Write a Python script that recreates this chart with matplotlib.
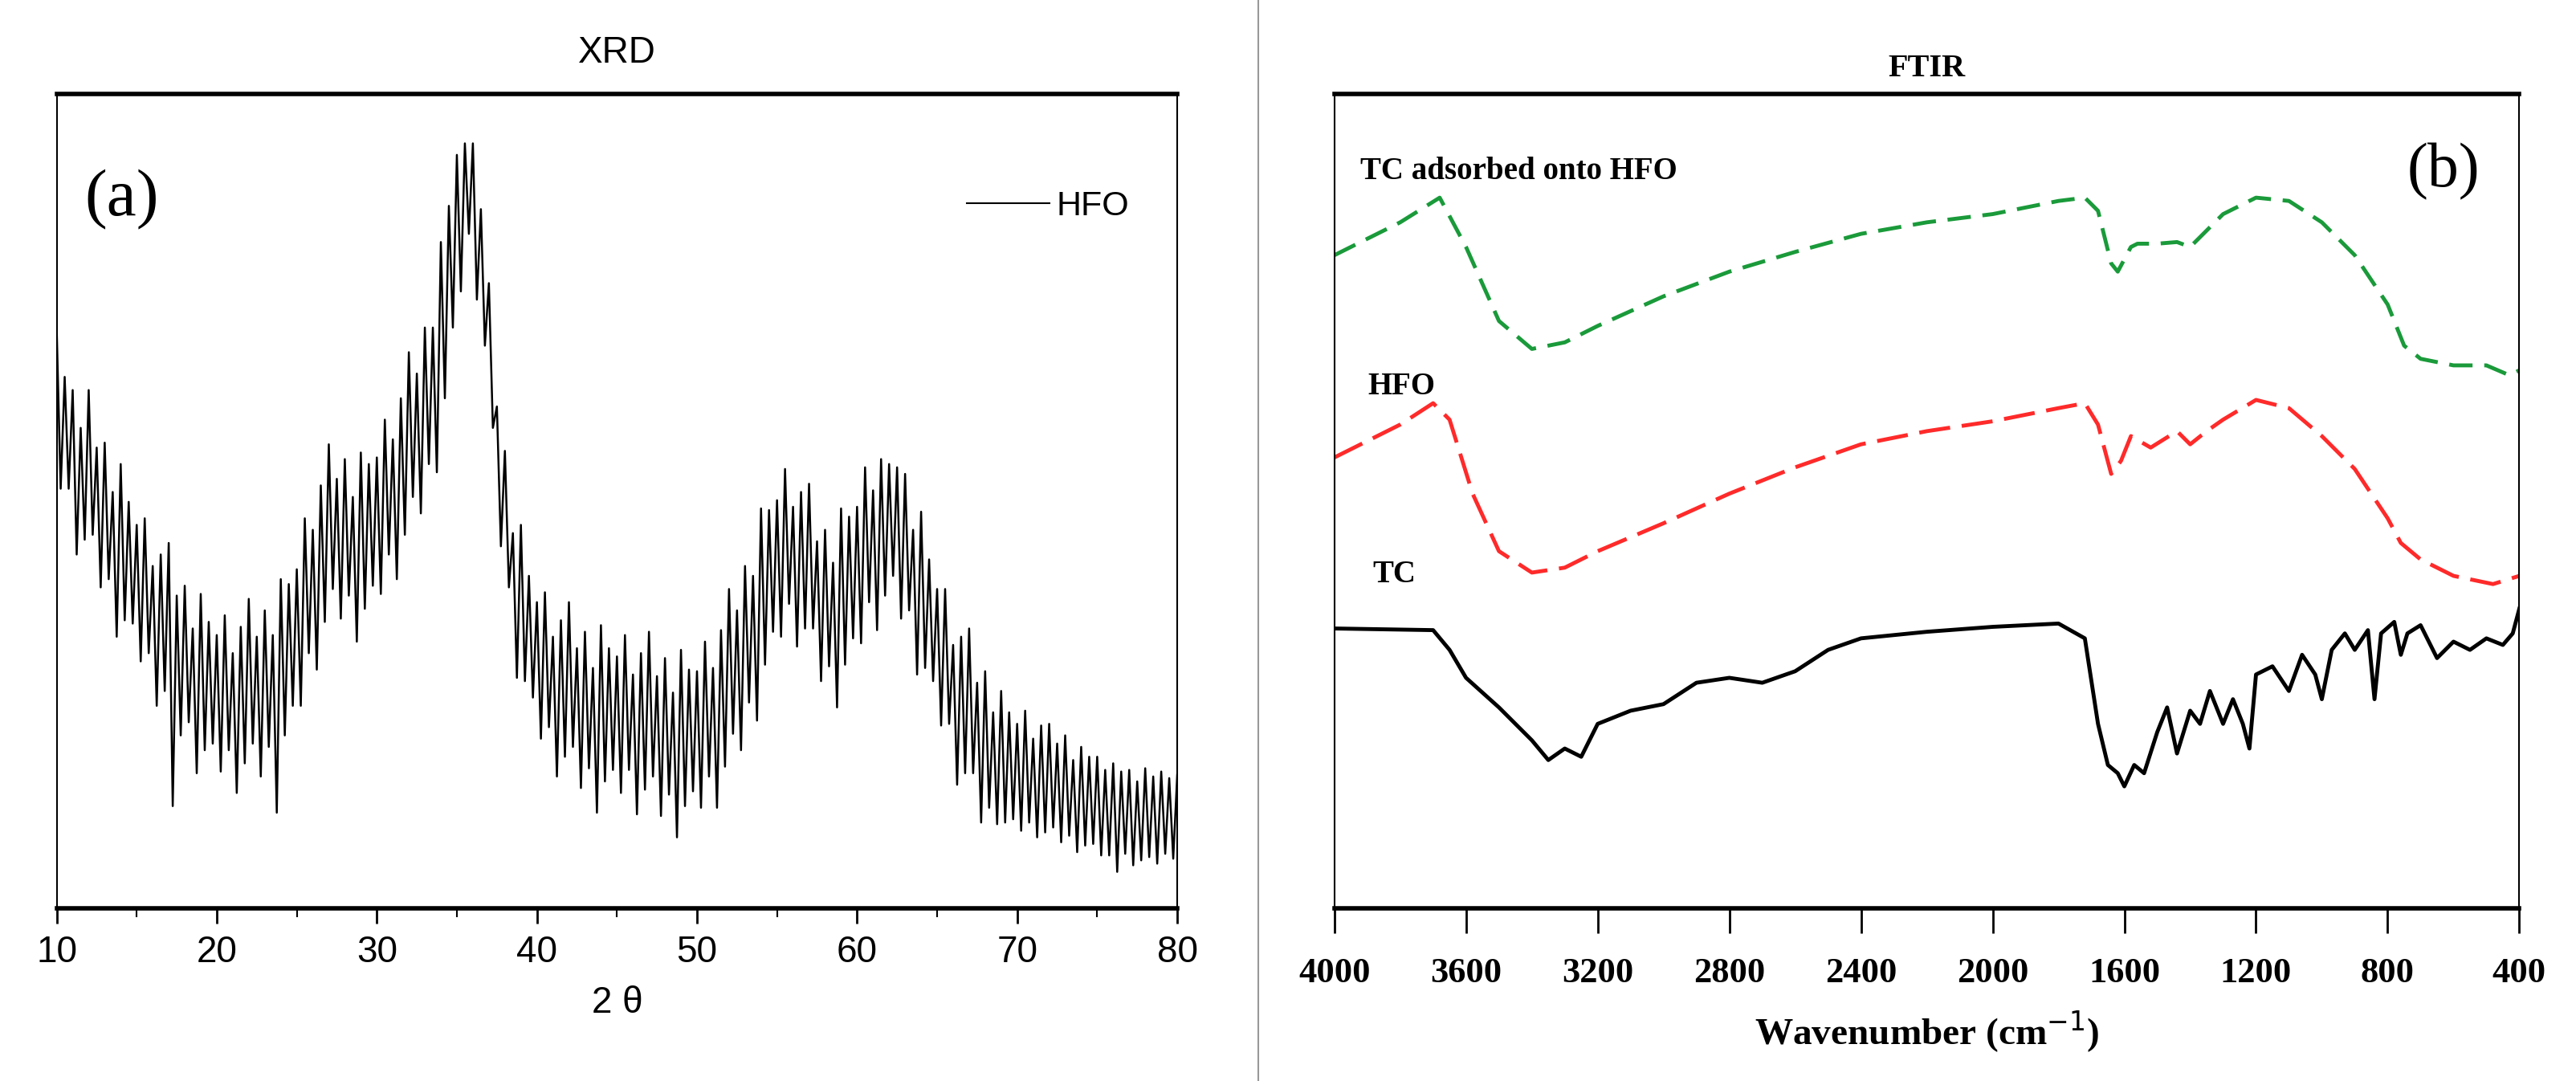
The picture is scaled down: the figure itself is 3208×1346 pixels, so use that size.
import matplotlib

matplotlib.use("Agg")
import matplotlib.pyplot as plt
import numpy as np
from matplotlib.lines import Line2D

# XRD (HFO) — upper/lower noise envelope read at 0.5 deg steps, arbitrary intensity
xrd_2theta = np.arange(10, 80.01, 0.5)
xrd_hi = [352, 323, 315, 292, 315, 280, 283, 253, 270, 247, 233, 237, 208, 215, 222, 190, 196, 170, 191, 174,
          166, 178, 155, 171, 188, 165, 181, 166, 200, 197, 206, 237, 230, 257, 282, 261, 273, 250, 277, 270,
          274, 297, 285, 310, 338, 325, 353, 353, 405, 427, 458, 465, 465, 425, 380, 305, 278, 228, 233, 202,
          186, 192, 165, 175, 186, 158, 168, 146, 172, 158, 153, 166, 142, 155, 168, 141, 152, 131, 157, 145,
          144, 162, 146, 169, 194, 181, 208, 202, 243, 242, 248, 267, 244, 253, 258, 223, 230, 210, 243, 238,
          244, 268, 254, 273, 270, 268, 264, 230, 241, 212, 194, 194, 160, 165, 170, 137, 144, 119, 132, 119,
          112, 120, 103, 111, 112, 100, 105, 90, 98, 92, 92, 84, 88, 83, 84, 77, 85, 80, 83, 79, 81]
xrd_lo = [255, 255, 215, 224, 227, 195, 200, 165, 175, 173, 150, 155, 123, 132, 62, 105, 113, 82, 96, 100,
          83, 96, 70, 88, 100, 80, 98, 58, 105, 123, 123, 155, 145, 174, 194, 176, 190, 162, 182, 196,
          191, 215, 200, 227, 250, 240, 270, 265, 310, 353, 375, 410, 370, 342, 292, 220, 195, 140, 138, 128,
          103, 110, 80, 92, 98, 73, 85, 58, 77, 84, 70, 84, 57, 72, 80, 56, 69, 43, 62, 71,
          61, 80, 61, 86, 106, 96, 125, 114, 148, 168, 165, 185, 159, 170, 170, 138, 147, 122, 148, 164,
          161, 186, 169, 190, 202, 176, 181, 142, 146, 138, 111, 112, 75, 82, 82, 52, 61, 51, 52, 54,
          47, 52, 43, 46, 49, 40, 44, 34, 38, 39, 32, 32, 22, 33, 26, 29, 31, 27, 33, 30, 35]

# FTIR spectra, offset transmittance (arbitrary units)
tc_ads_wn = [4000, 3800, 3680, 3600, 3500, 3400, 3300, 3200, 3000, 2800, 2600, 2400, 2200, 2000, 1800, 1720,
             1680, 1640, 1620, 1580, 1560, 1500, 1440, 1400, 1350, 1300, 1200, 1100, 1000, 900, 850, 800,
             750, 700, 600, 500, 430, 400]
tc_ads_y = [397, 417, 432, 402, 357, 340, 344, 354, 372, 387, 399, 410, 417, 422, 430, 432,
            424, 392, 387, 402, 404, 404, 405, 402, 412, 422, 432, 430, 417, 397, 382, 367,
            342, 334, 330, 330, 324, 327]
hfo_wn = [4000, 3800, 3700, 3650, 3580, 3500, 3400, 3300, 3200, 3000, 2800, 2600, 2400, 2200, 2000, 1800,
          1720, 1680, 1640, 1610, 1580, 1520, 1440, 1400, 1350, 1300, 1200, 1100, 1000, 900, 800, 760,
          700, 600, 480, 400]
hfo_y = [274, 294, 307, 297, 252, 217, 204, 207, 217, 234, 252, 268, 282, 290, 296, 304,
         307, 294, 264, 272, 287, 280, 290, 282, 290, 297, 309, 304, 287, 267, 237, 222,
         212, 202, 197, 202]
tc_wn = [4000, 3700, 3650, 3600, 3500, 3400, 3350, 3300, 3250, 3200, 3100, 3000, 2900, 2800, 2700, 2600,
         2500, 2400, 2200, 2000, 1800, 1720, 1680, 1650, 1620, 1600, 1570, 1540, 1500, 1470, 1440, 1400,
         1370, 1340, 1300, 1270, 1240, 1220, 1200, 1150, 1100, 1060, 1020, 1000, 970, 930, 900, 860,
         840, 820, 780, 760, 740, 700, 650, 600, 550, 500, 450, 420, 400]
tc_y = [170, 169, 157, 140, 122, 102, 90, 97, 92, 112, 120, 124, 137, 140, 137, 144,
        157, 164, 168, 171, 173, 164, 112, 87, 82, 74, 87, 82, 107, 122, 94, 120,
        112, 132, 112, 127, 112, 97, 142, 147, 132, 154, 142, 127, 157, 167, 157, 169,
        127, 167, 174, 154, 167, 172, 152, 162, 157, 164, 160, 167, 182]

fig = plt.figure(figsize=(32.08, 13.46), dpi=100)

# ---- (a) XRD ----
ax1 = fig.add_axes([0.022, 0.160, 0.435, 0.753])
xx = np.column_stack([xrd_2theta, xrd_2theta + 0.25]).ravel()[:-1]
yy = np.column_stack([xrd_hi, xrd_lo]).ravel()[:-1]
ax1.plot(xx, yy, color="black", lw=1.8)
ax1.set_xlim(10, 80)
ax1.set_ylim(0, 495)
ax1.set_yticks([])
ax1.set_xticks(range(10, 81, 10))
ax1.set_xticks(range(15, 80, 10), minor=True)
ax1.tick_params(axis="x", which="major", length=14, width=2, labelsize=33, pad=10)
ax1.tick_params(axis="x", which="minor", length=8, width=1.5)
for lab in ax1.get_xticklabels():
    lab.set_fontfamily("Liberation Sans")
ax1.set_xlabel("2 θ", fontsize=33, fontfamily="Liberation Sans", labelpad=14)
ax1.set_title("XRD", fontsize=33, fontfamily="Liberation Sans", pad=28)
for s in ax1.spines.values():
    s.set_linewidth(1.5)
ax1.spines["top"].set_linewidth(4)
ax1.spines["bottom"].set_linewidth(4)
ax1.text(0.025, 0.87, "(a)", transform=ax1.transAxes, fontsize=60, fontfamily="Liberation Serif", va="center")
ax1.legend([Line2D([], [], color="black", lw=1.5)], ["HFO"], loc="upper right", bbox_to_anchor=(0.985, 0.92),
           frameon=False, prop={"family": "Liberation Sans", "size": 31}, handlelength=2.4, handletextpad=0.2)

# ---- separator ----
fig.add_artist(Line2D([0.4885, 0.4885], [0, 1], transform=fig.transFigure, color="#999999", lw=1.5))

# ---- (b) FTIR ----
ax2 = fig.add_axes([0.518, 0.160, 0.460, 0.753])
ax2.plot(tc_ads_wn, tc_ads_y, color="#1a9a3a", lw=3.5, ls=(0, (6, 3)))
ax2.plot(hfo_wn, hfo_y, color="#ff2a2a", lw=3.5, ls=(0, (8, 3)))
ax2.plot(tc_wn, tc_y, color="black", lw=3.5)
ax2.set_xlim(4000, 400)
ax2.set_ylim(0, 495)
ax2.set_yticks([])
ax2.set_xticks(range(4000, 399, -400))
ax2.tick_params(axis="x", length=22, width=2, labelsize=32, pad=22)
for lab in ax2.get_xticklabels():
    lab.set_fontfamily("Liberation Serif")
    lab.set_fontweight("bold")
ax2.set_xlabel("Wavenumber (cm$^{-1}$)", fontsize=34, fontfamily="Liberation Serif", fontweight="bold",
               labelpad=18)
ax2.set_title("FTIR", fontsize=29, fontfamily="Liberation Serif", fontweight="bold", pad=16)
for s in ax2.spines.values():
    s.set_linewidth(1.5)
ax2.spines["top"].set_linewidth(4)
ax2.spines["bottom"].set_linewidth(4)
ann = {"family": "Liberation Serif", "weight": "bold", "size": 28}
ax2.text(0.022, 0.905, "TC adsorbed onto HFO", transform=ax2.transAxes, fontdict=ann, va="center")
ax2.text(0.028, 0.64, "HFO", transform=ax2.transAxes, fontdict=ann, va="center")
ax2.text(0.032, 0.41, "TC", transform=ax2.transAxes, fontdict=ann, va="center")
ax2.text(0.905, 0.905, "(b)", transform=ax2.transAxes, fontsize=56, fontfamily="Liberation Serif", va="center")

fig.savefig("out.png", dpi=100, facecolor="white")
